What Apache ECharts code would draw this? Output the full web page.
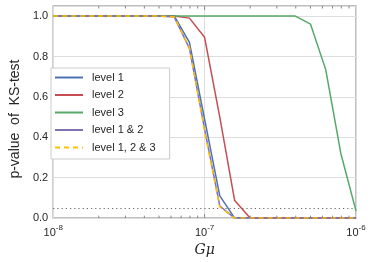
<!DOCTYPE html>
<html>
<head>
<meta charset="utf-8">
<script src="https://cdn.jsdelivr.net/npm/echarts@6/dist/echarts.min.js"></script>
<style>
html,body{margin:0;padding:0;background:#fff;}
#chart{width:374px;height:262px;}
</style>
</head>
<body>
<div id="chart"></div>
<script>
// x positions (G mu), log-spaced samples
const gmu = [1e-8, 1.26e-8, 1.58e-8, 2e-8, 2.51e-8, 3.16e-8, 3.98e-8, 5.01e-8, 6.31e-8, 7.94e-8,
             1e-7, 1.26e-7, 1.58e-7, 2e-7, 2.51e-7, 3.16e-7, 3.98e-7, 5.01e-7, 6.31e-7, 7.94e-7, 1e-6];
const level1   = [1,1,1,1,1,1,1,1,1.0,0.87,0.49,0.11,0,0,0,0,0,0,0,0,0];
const level2   = [1,1,1,1,1,1,1,1,1.0,0.99,0.895,0.50,0.087,0,0,0,0,0,0,0,0];
const level3   = [1,1,1,1,1,1,1,1,1,1,1,1,1,1,1,1,1.0,0.96,0.735,0.32,0.036];
const level12  = [1,1,1,1,1,1,1,1,0.995,0.84,0.44,0.06,0,0,0,0,0,0,0,0,0];
const level123 = [1,1,1,1,1,1,1,1,0.995,0.845,0.43,0.055,0,0,0,0,0,0,0,0,0];
const seriesNames = ['level 1', 'level 2', 'level 3', 'level 1 & 2', 'level 1, 2 & 3'];
const threshold = 0.05;
const yTicks = [0, 0.2, 0.4, 0.6, 0.8, 1.0];
const xMinorTicks = [2e-8,3e-8,4e-8,5e-8,6e-8,7e-8,8e-8,9e-8,2e-7,3e-7,4e-7,5e-7,6e-7,7e-7,8e-7,9e-7];
const xMajorTicks = [1e-7];

const colors = ['#4c72b0', '#c44e52', '#55a868', '#8172b2', '#ffc000'];
const values = [level1, level2, level3, level12, level123];
const txt = '#262626';
const frame = '#aaaaaa';

function pairs(v){ return gmu.map((x,i)=>[x, v[i]]); }

const lineSeries = values.map((v, i) => ({
  name: seriesNames[i],
  type: 'line',
  data: pairs(v),
  showSymbol: false,
  symbol: 'none',
  z: 3 + i,
  lineStyle: { color: colors[i], width: 1.5, type: i === 4 ? [5, 4] : 'solid' },
  itemStyle: { color: colors[i] },
  emphasis: { disabled: true },
  animation: false
}));

lineSeries[0].markLine = {
  silent: true,
  symbol: 'none',
  label: { show: false },
  lineStyle: { color: '#666', type: [1.2, 3], width: 1.2 },
  data: [{ yAxis: threshold }],
  animation: false
};

const tickSeries = {
  type: 'custom',
  silent: true,
  z: 10,
  data: xMinorTicks.map(v => [v, 0]).concat(xMajorTicks.map(v => [v, 1])),
  renderItem: function (params, api) {
    const x = api.value(0);
    const major = api.value(1) === 1;
    const len = major ? 4 : 2.5;
    const pb = api.coord([x, 0]);
    const pt = api.coord([x, 1.05]);
    return {
      type: 'group',
      children: [
        { type: 'line', shape: { x1: pb[0], y1: pb[1], x2: pb[0], y2: pb[1] - len }, style: { stroke: '#888', lineWidth: 1 } },
        { type: 'line', shape: { x1: pt[0], y1: pt[1], x2: pt[0], y2: pt[1] + len }, style: { stroke: '#888', lineWidth: 1 } }
      ]
    };
  },
  animation: false
};

const chart = echarts.init(document.getElementById('chart'), null, { renderer: 'canvas' });
chart.setOption({
  animation: false,
  backgroundColor: '#fff',
  textStyle: { fontFamily: 'Liberation Sans, Arial, sans-serif', color: txt },
  grid: { left: 45, right: 18, top: 6, bottom: 43, show: true, borderColor: frame, borderWidth: 1.5, backgroundColor: 'transparent' },
  legend: {
    data: seriesNames,
    orient: 'vertical',
    left: 51,
    top: 68,
    padding: [4, 14, 6, 3],
    itemWidth: 28,
    itemHeight: 12,
    itemGap: 6.5,
    itemStyle: { opacity: 0 },
    backgroundColor: '#fff',
    borderColor: '#cccccc',
    borderWidth: 1,
    textStyle: { fontSize: 11, color: txt, fontFamily: 'Liberation Sans, Arial, sans-serif', padding: [0, 0, 0, 4] }
  },
  xAxis: {
    type: 'log',
    logBase: 10,
    min: 1e-8,
    max: 1e-6,
    name: 'Gμ',
    nameLocation: 'middle',
    nameGap: 20,
    nameTextStyle: { fontFamily: 'DejaVu Serif, serif', fontStyle: 'italic', fontSize: 14, color: txt },
    axisLine: { show: false },
    axisTick: { show: false },
    splitLine: { show: true, lineStyle: { color: '#dddddd', width: 1 } },
    axisLabel: {
      margin: 6,
      formatter: function (v) {
        const e = Math.round(Math.log10(v));
        return '{b|10}{s|' + e + '}';
      },
      rich: {
        b: { fontSize: 11, color: txt, fontFamily: 'Liberation Sans, Arial, sans-serif', verticalAlign: 'bottom', lineHeight: 14 },
        s: { fontSize: 8, color: txt, fontFamily: 'Liberation Sans, Arial, sans-serif', verticalAlign: 'top', lineHeight: 14 }
      }
    }
  },
  yAxis: {
    type: 'value',
    min: 0,
    max: 1.05,
    interval: 0.2,
    name: 'p-value  of  KS-test',
    nameLocation: 'middle',
    nameGap: 24,
    nameTextStyle: { fontSize: 14, color: txt, fontFamily: 'Liberation Sans, Arial, sans-serif', padding: [0, 14, 0, 0] },
    axisLine: { show: false },
    axisTick: { show: false },
    splitLine: { show: true, lineStyle: { color: '#dddddd', width: 1 } },
    axisLabel: {
      fontSize: 11, color: txt, margin: 5, showMaxLabel: false,
      formatter: function (v) { return yTicks.some(t => Math.abs(t - v) < 1e-9) ? v.toFixed(1) : ''; }
    }
  },
  series: lineSeries.concat([tickSeries])
});
</script>
</body>
</html>
